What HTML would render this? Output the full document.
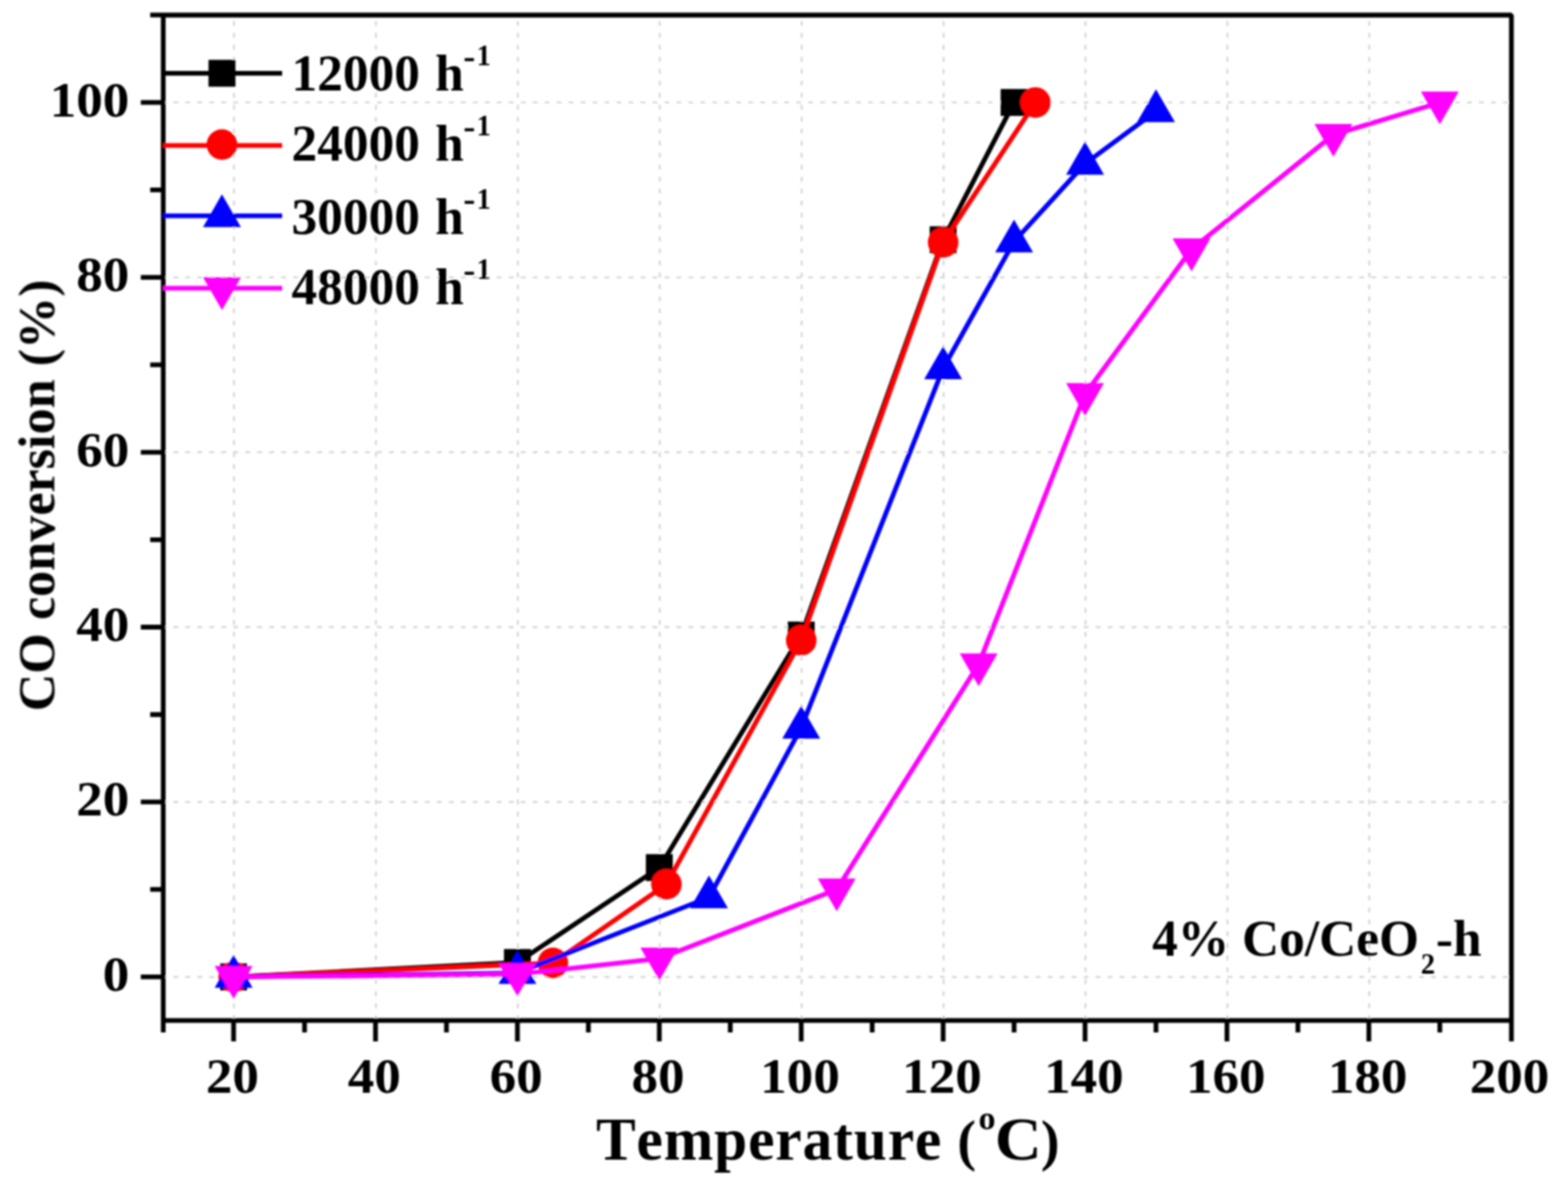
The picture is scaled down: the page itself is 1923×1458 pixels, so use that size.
<!DOCTYPE html><html><head><meta charset="utf-8"><title>CO conversion vs Temperature</title>
<style>html,body{margin:0;padding:0;background:#fff;}svg{display:block;}text{font-kerning:none;font-feature-settings:"kern" 0;}html,body{overflow:hidden;}</style></head><body>
<svg width="1923" height="1458" viewBox="0 0 1923 1458">
<defs><filter id="bl" x="-2%" y="-2%" width="104%" height="104%"><feGaussianBlur stdDeviation="1.25"/></filter><clipPath id="pc"><rect x="200.2" y="18.5" width="1653.4" height="1232.9"/></clipPath></defs>
<rect width="1923" height="1458" fill="#fff"/>
<g filter="url(#bl)">
<path d="M286.99 1251.4V21.5M461.02 1251.4V21.5M635.06 1251.4V21.5M809.09 1251.4V21.5M983.13 1251.4V21.5M1157.17 1251.4V21.5M1331.2 1251.4V21.5M1505.24 1251.4V21.5M1679.27 1251.4V21.5" stroke="#d6d6d6" stroke-width="2.4" stroke-dasharray="6 8.69" stroke-dashoffset="14.22" fill="none"/>
<path d="M200.2 1197.93H1851.6M200.2 983.47H1851.6M200.2 769.02H1851.6M200.2 554.56H1851.6M200.2 340.11H1851.6M200.2 125.65H1851.6" stroke="#d6d6d6" stroke-width="2.4" stroke-dasharray="6 8.69" stroke-dashoffset="2.29" fill="none"/>
<path d="M200.2 18.5H1853.6V1251.4H200.2Z" stroke="#000" stroke-width="5.8" fill="none" stroke-linejoin="bevel"/>
<path d="M172.7 1197.93H200.2M172.7 983.47H200.2M172.7 769.02H200.2M172.7 554.56H200.2M172.7 340.11H200.2M172.7 125.65H200.2M184.2 1090.7H200.2M184.2 876.25H200.2M184.2 661.79H200.2M184.2 447.33H200.2M184.2 232.88H200.2M184.2 18.42H200.2M286.49 1251.4V1276.9M460.52 1251.4V1276.9M634.56 1251.4V1276.9M808.59 1251.4V1276.9M982.63 1251.4V1276.9M1156.67 1251.4V1276.9M1330.7 1251.4V1276.9M1504.74 1251.4V1276.9M1678.77 1251.4V1276.9M1853.6 1251.4V1276.9M200.2 1251.4V1265.9M373.5 1251.4V1265.9M547.54 1251.4V1265.9M721.58 1251.4V1265.9M895.61 1251.4V1265.9M1069.65 1251.4V1265.9M1243.68 1251.4V1265.9M1417.72 1251.4V1265.9M1591.76 1251.4V1265.9M1765.79 1251.4V1265.9" stroke="#000" stroke-width="5.8" fill="none"/>
<polyline points="286.49,1197.93 634.56,1180.24 808.59,1063.89 982.63,778.67 1156.67,294 1243.68,125.65" fill="none" stroke="#000" stroke-width="5.8" stroke-linejoin="round"/>
<rect x="269.99" y="1181.43" width="33" height="33" fill="#000"/>
<rect x="618.06" y="1163.74" width="33" height="33" fill="#000"/>
<rect x="792.09" y="1047.39" width="33" height="33" fill="#000"/>
<rect x="966.13" y="762.17" width="33" height="33" fill="#000"/>
<rect x="1140.17" y="277.5" width="33" height="33" fill="#000"/>
<rect x="1227.18" y="109.15" width="33" height="33" fill="#000"/>
<polyline points="286.49,1197.93 678.07,1180.77 817.3,1084.27 982.63,785.1 1156.67,297.21 1269.79,125.65" fill="none" stroke="#f00" stroke-width="5.8" stroke-linejoin="round"/>
<circle cx="286.49" cy="1197.93" r="18.75" fill="#f00"/>
<circle cx="678.07" cy="1180.77" r="18.75" fill="#f00"/>
<circle cx="817.3" cy="1084.27" r="18.75" fill="#f00"/>
<circle cx="982.63" cy="785.1" r="18.75" fill="#f00"/>
<circle cx="1156.67" cy="297.21" r="18.75" fill="#f00"/>
<circle cx="1269.79" cy="125.65" r="18.75" fill="#f00"/>
<polyline points="286.49,1197.93 634.56,1193.1 869.51,1100.35 982.63,892.33 1156.67,451.62 1243.68,296.14 1330.7,200.71 1417.72,136.37" fill="none" stroke="#00f" stroke-width="5.8" stroke-linejoin="round"/>
<polygon points="286.49,1171.08 309.74,1211.35 263.24,1211.35" fill="#00f"/>
<polygon points="634.56,1166.26 657.81,1206.53 611.31,1206.53" fill="#00f"/>
<polygon points="869.51,1073.51 892.76,1113.78 846.26,1113.78" fill="#00f"/>
<polygon points="982.63,865.48 1005.88,905.75 959.38,905.75" fill="#00f"/>
<polygon points="1156.67,424.78 1179.92,465.05 1133.42,465.05" fill="#00f"/>
<polygon points="1243.68,269.3 1266.93,309.57 1220.43,309.57" fill="#00f"/>
<polygon points="1330.7,173.86 1353.95,214.13 1307.45,214.13" fill="#00f"/>
<polygon points="1417.72,109.53 1440.97,149.8 1394.47,149.8" fill="#00f"/>
<polyline points="286.49,1197.93 634.56,1194.71 808.59,1175.41 1026.14,1090.7 1200.18,814.59 1330.7,483.26 1461.23,305.79 1635.27,165.32 1765.79,125.65" fill="none" stroke="#f0f" stroke-width="5.8" stroke-linejoin="round"/>
<polygon points="263.24,1184.51 309.74,1184.51 286.49,1224.78" fill="#f0f"/>
<polygon points="611.31,1181.29 657.81,1181.29 634.56,1221.56" fill="#f0f"/>
<polygon points="785.34,1161.99 831.84,1161.99 808.59,1202.26" fill="#f0f"/>
<polygon points="1002.89,1077.28 1049.39,1077.28 1026.14,1117.55" fill="#f0f"/>
<polygon points="1176.93,801.17 1223.43,801.17 1200.18,841.44" fill="#f0f"/>
<polygon points="1307.45,469.83 1353.95,469.83 1330.7,510.1" fill="#f0f"/>
<polygon points="1437.98,292.37 1484.48,292.37 1461.23,332.64" fill="#f0f"/>
<polygon points="1612.02,151.9 1658.52,151.9 1635.27,192.17" fill="#f0f"/>
<polygon points="1742.54,112.23 1789.04,112.23 1765.79,152.5" fill="#f0f"/>
<path d="M200.2 89.85H346" stroke="#000" stroke-width="5.8"/>
<rect x="255.7" y="73.35" width="33" height="33" fill="#000"/>
<path d="M200.2 178.3H346" stroke="#f00" stroke-width="5.8"/>
<circle cx="272.2" cy="177.3" r="18.75" fill="#f00"/>
<path d="M200.2 264.7H346" stroke="#00f" stroke-width="5.8"/>
<polygon points="272.2,238.35 295.45,278.62 248.95,278.62" fill="#00f"/>
<path d="M200.2 353.3H346" stroke="#f0f" stroke-width="5.8"/>
<polygon points="248.95,339.88 295.45,339.88 272.2,380.15" fill="#f0f"/>
<text x="357.5" y="111.2" font-family="Liberation Serif, Times New Roman, serif" font-weight="bold" fill="#000" font-size="63">12000 <tspan dx="3">h</tspan><tspan font-size="44" dy="-27.6" dx="-0.5">-</tspan><tspan font-size="35" dy="-3.4" dx="1.65">1</tspan></text>
<text x="357.5" y="197.3" font-family="Liberation Serif, Times New Roman, serif" font-weight="bold" fill="#000" font-size="63">24000 <tspan dx="3">h</tspan><tspan font-size="44" dy="-27.6" dx="-0.5">-</tspan><tspan font-size="35" dy="-3.4" dx="1.65">1</tspan></text>
<text x="357.5" y="286.7" font-family="Liberation Serif, Times New Roman, serif" font-weight="bold" fill="#000" font-size="63">30000 <tspan dx="3">h</tspan><tspan font-size="44" dy="-27.6" dx="-0.5">-</tspan><tspan font-size="35" dy="-3.4" dx="1.65">1</tspan></text>
<text x="357.5" y="373.3" font-family="Liberation Serif, Times New Roman, serif" font-weight="bold" fill="#000" font-size="63">48000 <tspan dx="3">h</tspan><tspan font-size="44" dy="-27.6" dx="-0.5">-</tspan><tspan font-size="35" dy="-3.4" dx="1.65">1</tspan></text>
<text transform="translate(158.5 1214.93) scale(1.05 1)" font-family="Liberation Serif, Times New Roman, serif" font-weight="bold" fill="#000" font-size="62" text-anchor="end">0</text>
<text transform="translate(158.5 1000.47) scale(1.05 1)" font-family="Liberation Serif, Times New Roman, serif" font-weight="bold" fill="#000" font-size="62" text-anchor="end">20</text>
<text transform="translate(158.5 786.02) scale(1.05 1)" font-family="Liberation Serif, Times New Roman, serif" font-weight="bold" fill="#000" font-size="62" text-anchor="end">40</text>
<text transform="translate(158.5 571.56) scale(1.05 1)" font-family="Liberation Serif, Times New Roman, serif" font-weight="bold" fill="#000" font-size="62" text-anchor="end">60</text>
<text transform="translate(158.5 357.11) scale(1.05 1)" font-family="Liberation Serif, Times New Roman, serif" font-weight="bold" fill="#000" font-size="62" text-anchor="end">80</text>
<text transform="translate(158.5 142.65) scale(1.05 1)" font-family="Liberation Serif, Times New Roman, serif" font-weight="bold" fill="#000" font-size="62" text-anchor="end">100</text>
<text transform="translate(284.99 1339.5) scale(1.05 1)" font-family="Liberation Serif, Times New Roman, serif" font-weight="bold" fill="#000" font-size="62" text-anchor="middle">20</text>
<text transform="translate(459.02 1339.5) scale(1.05 1)" font-family="Liberation Serif, Times New Roman, serif" font-weight="bold" fill="#000" font-size="62" text-anchor="middle">40</text>
<text transform="translate(633.06 1339.5) scale(1.05 1)" font-family="Liberation Serif, Times New Roman, serif" font-weight="bold" fill="#000" font-size="62" text-anchor="middle">60</text>
<text transform="translate(807.09 1339.5) scale(1.05 1)" font-family="Liberation Serif, Times New Roman, serif" font-weight="bold" fill="#000" font-size="62" text-anchor="middle">80</text>
<text transform="translate(981.13 1339.5) scale(1.05 1)" font-family="Liberation Serif, Times New Roman, serif" font-weight="bold" fill="#000" font-size="62" text-anchor="middle">100</text>
<text transform="translate(1155.17 1339.5) scale(1.05 1)" font-family="Liberation Serif, Times New Roman, serif" font-weight="bold" fill="#000" font-size="62" text-anchor="middle">120</text>
<text transform="translate(1329.2 1339.5) scale(1.05 1)" font-family="Liberation Serif, Times New Roman, serif" font-weight="bold" fill="#000" font-size="62" text-anchor="middle">140</text>
<text transform="translate(1503.24 1339.5) scale(1.05 1)" font-family="Liberation Serif, Times New Roman, serif" font-weight="bold" fill="#000" font-size="62" text-anchor="middle">160</text>
<text transform="translate(1677.27 1339.5) scale(1.05 1)" font-family="Liberation Serif, Times New Roman, serif" font-weight="bold" fill="#000" font-size="62" text-anchor="middle">180</text>
<text transform="translate(1851.31 1339.5) scale(1.05 1)" font-family="Liberation Serif, Times New Roman, serif" font-weight="bold" fill="#000" font-size="62" text-anchor="middle">200</text>
<text x="730.9" y="1421.5" font-family="Liberation Serif, Times New Roman, serif" font-weight="bold" fill="#000" font-size="73" textLength="423.6" lengthAdjust="spacing">Temperature</text>
<text x="1174" y="1421.5" font-family="Liberation Serif, Times New Roman, serif" font-weight="bold" fill="#000" font-size="69">(</text>
<text x="1199.9" y="1384.8" font-family="Liberation Serif, Times New Roman, serif" font-weight="bold" fill="#000" font-size="42">o</text>
<text x="1219.9" y="1421.5" font-family="Liberation Serif, Times New Roman, serif" font-weight="bold" fill="#000" font-size="73" textLength="57.6" lengthAdjust="spacingAndGlyphs">C</text>
<text x="1276.4" y="1421.5" font-family="Liberation Serif, Times New Roman, serif" font-weight="bold" fill="#000" font-size="69">)</text>
<text transform="translate(66.5 607.5) rotate(-90)" font-family="Liberation Serif, Times New Roman, serif" font-weight="bold" fill="#000" font-size="64" text-anchor="middle">CO conversion (%)</text>
<text x="1413" y="1171.5" font-family="Liberation Serif, Times New Roman, serif" font-weight="bold" fill="#000" font-size="63">4% Co/CeO<tspan font-size="35" dy="22.4" dx="2.2">2</tspan><tspan dy="-22.4" dx="1.2">-h</tspan></text>
</g></svg></body></html>
